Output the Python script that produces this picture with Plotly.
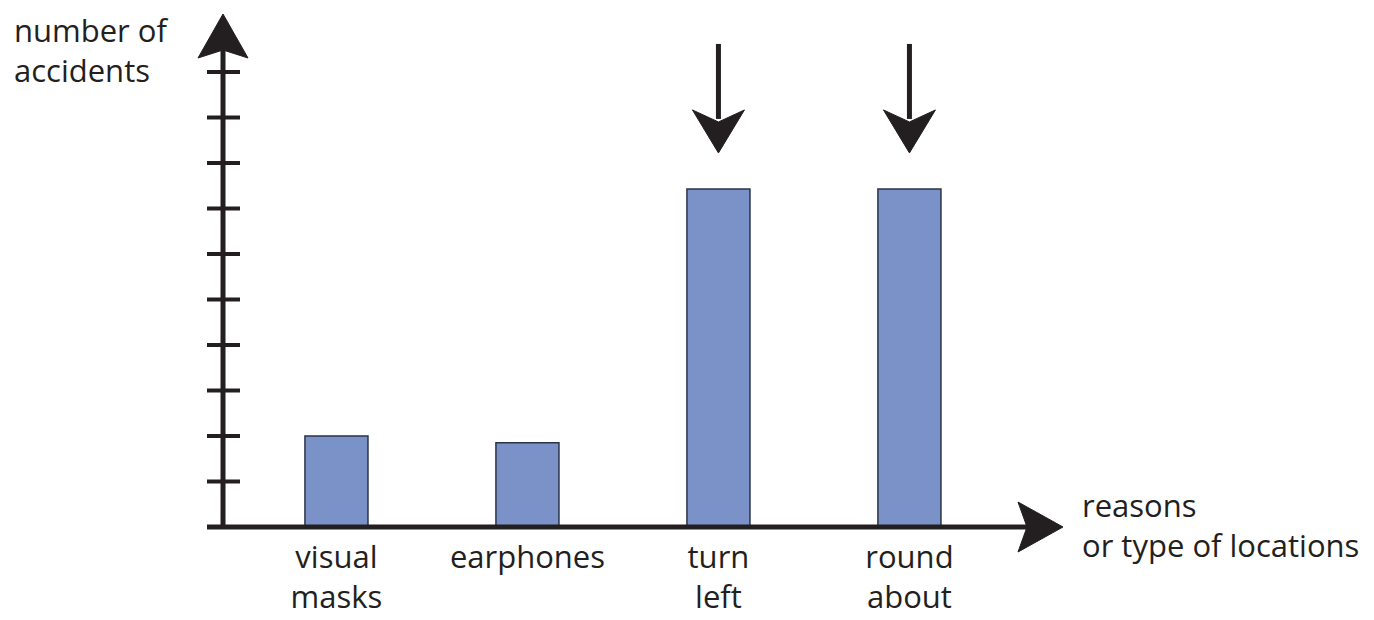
import plotly.graph_objects as go

categories = ["visual<br>masks", "earphones", "turn<br>left", "round<br>about"]
accidents = [2.0, 1.85, 7.43, 7.43]
highlighted = [2, 3]
y_ticks = [1, 2, 3, 4, 5, 6, 7, 8, 9, 10]
y_title = "number of<br>accidents"
x_title = "reasons<br>or type of locations"

INK = "#231f20"
BAR = "#7a92c8"
FONT = "Open Sans"

W, H = 1366, 612
L, R, T, B = 215, 311, 6, 93
PW = W - L - R

fig = go.Figure()
fig.add_trace(go.Bar(
    x=list(range(len(categories))), y=accidents, width=0.33,
    marker=dict(color=BAR, line=dict(color="#2a3348", width=1.5)),
    hoverinfo="skip", showlegend=False,
))

shapes = []
# y axis line
shapes.append(dict(type="line", xref="paper", yref="paper", x0=0, x1=0, y0=0, y1=0.93,
                   line=dict(color=INK, width=5), layer="above"))
# x axis line (with short extension to the left)
shapes.append(dict(type="line", xref="paper", yref="paper", xsizemode="pixel", xanchor=0,
                   x0=-16, x1=PW - 25, y0=0, y1=0, line=dict(color=INK, width=5), layer="above"))
# ticks
for t in y_ticks:
    shapes.append(dict(type="line", xref="paper", yref="y", xsizemode="pixel", xanchor=0,
                       x0=-16, x1=17, y0=t, y1=t, line=dict(color=INK, width=4), layer="above"))
# y arrowhead
shapes.append(dict(type="path", xref="paper", yref="paper", xsizemode="pixel", ysizemode="pixel",
                   xanchor=0, yanchor=1, path="M0,0 L-25,-44 L0,-36 L25,-44 Z",
                   fillcolor=INK, line=dict(color=INK, width=1), layer="above"))
# x arrowhead
shapes.append(dict(type="path", xref="paper", yref="paper", xsizemode="pixel", ysizemode="pixel",
                   xanchor=1, yanchor=0, path="M0,0 L-45,25 L-36,0 L-45,-25 Z",
                   fillcolor=INK, line=dict(color=INK, width=1), layer="above"))
# down arrows over highlighted bars
for i in highlighted:
    shapes.append(dict(type="line", xref="x", yref="y", ysizemode="pixel", xanchor=i, yanchor=accidents[i],
                       x0=i, x1=i, y0=70, y1=145, line=dict(color=INK, width=5)))
    shapes.append(dict(type="path", xref="x", yref="y", xsizemode="pixel", ysizemode="pixel",
                       xanchor=i, yanchor=accidents[i],
                       path="M0,36 L-26,79 L0,67 L26,79 Z",
                       fillcolor=INK, line=dict(color=INK, width=1)))

annotations = [
    dict(text=y_title, xref="paper", yref="paper", x=-L / PW, y=1, xanchor="left", yanchor="middle",
         yshift=-36, xshift=4, showarrow=False, align="left",
         font=dict(family=FONT, size=31, color=INK)),
    dict(text=x_title, xref="paper", yref="paper", x=1, y=0, xanchor="left", yanchor="middle",
         xshift=17, yshift=2, showarrow=False, align="left",
         font=dict(family=FONT, size=31, color=INK)),
]

fig.update_layout(
    width=W, height=H,
    margin=dict(l=L, r=R, t=T, b=B, pad=0, autoexpand=False),
    paper_bgcolor="white", plot_bgcolor="white",
    shapes=shapes, annotations=annotations,
    xaxis=dict(range=[-0.594, 3.804], tickmode="array", tickvals=list(range(len(categories))),
               ticktext=categories, showgrid=False, zeroline=False, showline=False, ticks="",
               tickfont=dict(family=FONT, size=31, color=INK), ticklabelstandoff=9,
               automargin=False),
    yaxis=dict(range=[0, 513 / 45.5], showgrid=False, zeroline=False, showline=False,
               showticklabels=False, ticks="", automargin=False),
    showlegend=False,
)

fig.write_html("out.html")
